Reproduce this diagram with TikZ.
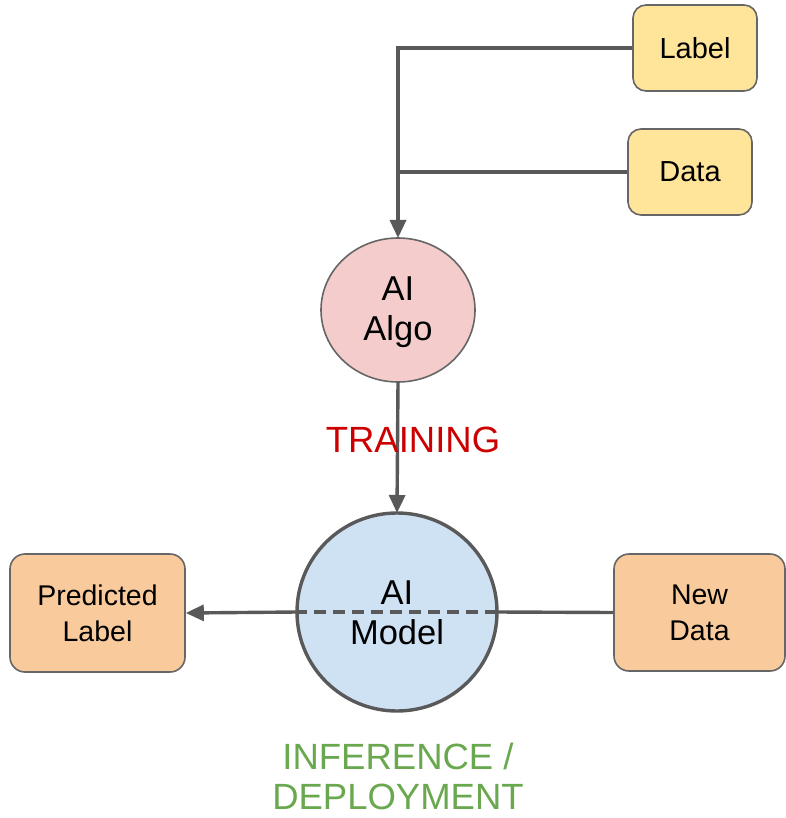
\documentclass[tikz,border=0pt]{standalone}
\usepackage{fontspec}
\setmainfont{Liberation Sans}
\usetikzlibrary{arrows.meta}
\definecolor{edgegray}{HTML}{595959}
\definecolor{boxline}{HTML}{666666}
\definecolor{yellowfill}{HTML}{FFE599}
\definecolor{orangefill}{HTML}{F9CB9C}
\definecolor{pinkfill}{HTML}{F4CCCC}
\definecolor{bluefill}{HTML}{CFE2F3}
\definecolor{trainred}{HTML}{CC0000}
\definecolor{infgreen}{HTML}{6AA84F}
\tikzset{
  inputbox/.style={draw=boxline, line width=1.6pt, rounded corners=13pt, fill=yellowfill,
    minimum width=124pt, minimum height=86pt, font=\fontsize{29}{34}\selectfont, inner sep=0pt},
  ioobox/.style={draw=boxline, line width=1.6pt, rounded corners=15pt, fill=orangefill,
    align=center, font=\fontsize{28.5}{36}\selectfont, inner sep=0pt},
  circtext/.style={font=\fontsize{34.5}{40}\selectfont, align=center, inner sep=0pt},
  conn/.style={draw=edgegray, line width=3.4pt},
  tip/.style={-{Triangle[length=18pt,width=16pt]}},
  phase/.style={font=\fontsize{36.5}{40}\selectfont, align=center, inner sep=0pt}
}
\begin{document}
\begin{tikzpicture}[x=1pt,y=-1pt]
\useasboundingbox (0,0) rectangle (785,818);

% input boxes
\node[inputbox] (label) at (695,48) {Label};
\node[inputbox] (data) at (690,172) {Data};

% AI algorithm and AI model
\draw[boxline, line width=1.6pt, fill=pinkfill] (398,310) ellipse [x radius=77, y radius=72];
\coordinate (algotop) at (398,238);
\coordinate (algobot) at (398,382);

\draw[edgegray, line width=3.4pt, fill=bluefill] (397,612) ellipse [x radius=100, y radius=99];
\coordinate (modeltop) at (397,513);
\coordinate (modelleft) at (297,612);
\coordinate (modelright) at (497,612);

% output / new data boxes
\node[ioobox, minimum width=175pt, minimum height=118pt] (pred) at (97.5,613) {Predicted\\Label};
\node[ioobox, minimum width=171pt, minimum height=117pt] (newdata) at (699.5,612.5) {New\\Data};

% training connectors
\coordinate (join) at (398,48);
\coordinate (dj) at (398,172);
\draw[conn, line join=miter] (label.west |- join) -- (join) -- (dj);
\draw[conn, tip] (dj) -- (algotop);
\draw[conn] (data.west) -- (dj);
\draw[conn, tip] (algobot) -- (modeltop);

% inference connectors
\draw[conn] (newdata.west) -- (modelright);
\draw[conn, dash pattern=on 12pt off 7pt] (modelright) -- (modelleft);
\draw[conn, tip] (modelleft) -- (pred.east);

% circle captions
\node[circtext] (algo) at (398,312) {AI\\Algo};
\node[circtext] (model) at (397,613) {AI\\Model};

% phase labels
\node[phase, text=trainred] (training) at (413,440) {TRAINING};
\node[phase, text=infgreen] (inference) at (398,776) {INFERENCE /\\DEPLOYMENT};
\end{tikzpicture}
\end{document}
